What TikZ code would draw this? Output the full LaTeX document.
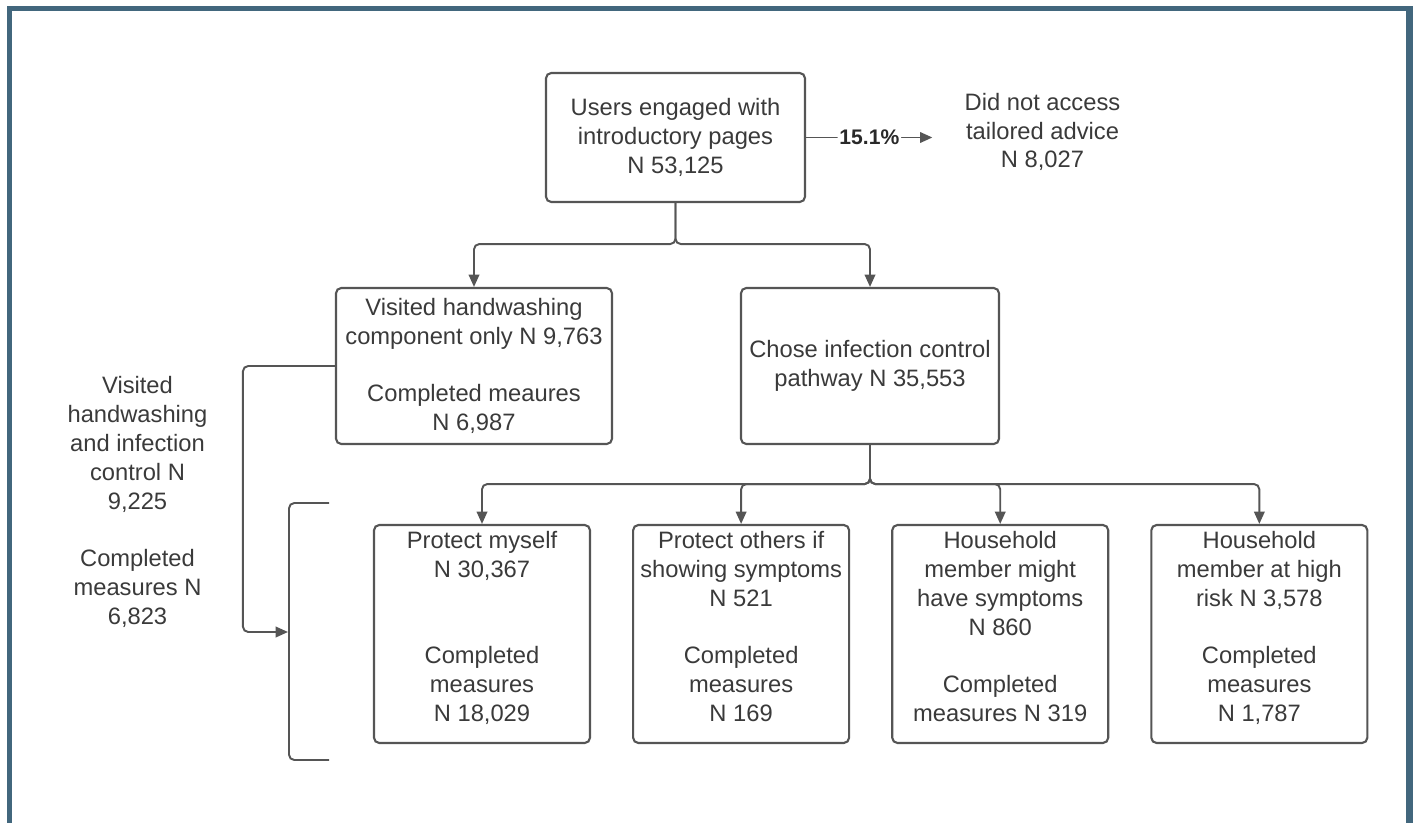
\documentclass[tikz,border=0pt]{standalone}
\usepackage{fontspec}
\setmainfont{Liberation Sans}
\usetikzlibrary{arrows.meta, positioning}
\definecolor{framebar}{RGB}{66,103,125}
\definecolor{flowline}{RGB}{85,85,85}
\definecolor{flowtext}{RGB}{58,58,58}

\begin{document}
\begin{tikzpicture}[
  stage/.style={rectangle, rounded corners=3pt, draw=flowline, line width=1.2pt,
                fill=white, align=center, text=flowtext, inner sep=1pt,
                font=\fontsize{13.5}{16.4}\selectfont},
  choice/.style={stage, minimum width=4.32cm, minimum height=4.36cm, text depth=0.3cm},
  note/.style={align=center, text=flowtext, inner sep=0pt,
               font=\fontsize{13.5}{16.4}\selectfont},
  arrow/.style={-{Triangle[length=7pt, width=6pt]}, flowline, line width=1.1pt,
                rounded corners=3pt},
  pct/.style={fill=white, inner sep=1pt, text=flowtext!70!black,
              font=\fontsize{12}{14}\selectfont\bfseries}
]
\useasboundingbox (0,0) rectangle (28.32,-16.46);
% frame
\fill[framebar] (0.14,-0.12) rectangle (0.24,-16.46);
\fill[framebar] (0.14,-0.12) rectangle (28.26,-0.22);
\fill[framebar] (28.12,-0.12) rectangle (28.26,-16.46);

\node[stage, minimum width=5.18cm, minimum height=2.58cm] (intro) at (13.51,-2.75)
  {Users engaged with\\introductory pages\\N 53,125};
\node[note] (noacc) at (20.85,-2.64) {Did not access\\tailored advice\\N 8,027};
\node[stage, minimum width=5.52cm, minimum height=3.12cm] (hand) at (9.48,-7.32)
  {Visited handwashing\\component only N 9,763\\[16.4pt]Completed meaures\\N 6,987};
\node[stage, minimum width=5.16cm, minimum height=3.12cm] (chose) at (17.40,-7.32)
  {Chose infection control\\pathway N 35,553};

\node[choice] (self) at (9.64,-12.68)
  {Protect myself\\N 30,367\\[32.8pt]Completed\\measures\\N 18,029};
\node[choice, right=0.82cm of self] (others)
  {Protect others if\\showing symptoms\\N 521\\[16.4pt]Completed\\measures\\N 169};
\node[choice, right=0.82cm of others] (hhsym)
  {Household\\member might\\have symptoms\\N 860\\[16.4pt]Completed\\measures N 319};
\node[choice, right=0.82cm of hhsym] (hhrisk)
  {Household\\member at high\\risk N 3,578\\[16.4pt]Completed\\measures\\N 1,787};

\node[note] (both) at (2.75,-10.04)
  {Visited\\handwashing\\and infection\\control N\\9,225\\[16.4pt]Completed\\measures N\\6,823};

% bracket round the four pathways
\coordinate (brtop) at (6.58,-10.06);
\coordinate (brbot) at (6.58,-15.20);
\coordinate (brin) at (5.76,-12.64);
\draw[flowline, line width=1.1pt, rounded corners=3pt] (brtop) -- ++(-0.8,0) |- (brbot);

\draw[arrow, shorten >=0.64cm] (intro.east) -- node[pct, pos=0.4]{15.1\%} (intro.east -| noacc.west);
\draw[arrow] (intro.south) -- ++(0,-0.82) -| (hand.north);
\draw[arrow] (intro.south) -- ++(0,-0.82) -| (chose.north);
\foreach \kid in {self,others,hhsym,hhrisk}
  \draw[arrow] (chose.south) -- ++(0,-0.78) -| (\kid.north);
\draw[arrow] (hand.west) -- ++(-1.84,0) |- (brin);
\end{tikzpicture}
\end{document}
